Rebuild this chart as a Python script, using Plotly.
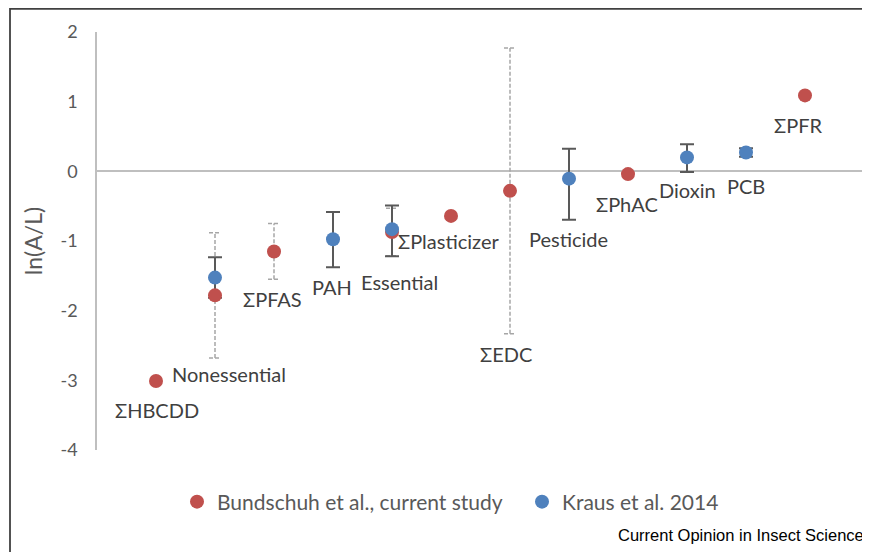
import plotly.graph_objects as go

# ---- data ----
red_name = "Bundschuh et al., current study"
blue_name = "Kraus et al. 2014"

red_x = [1, 2, 3, 5, 6, 7, 9, 12]
red_y = [-3.01, -1.78, -1.15, -0.87, -0.64, -0.28, -0.04, 1.09]
red_err = [0, 0.90, 0.40, 0.34, 0, 2.05, 0, 0]

blue_x = [2, 4, 5, 8, 10, 11]
blue_y = [-1.525, -0.975, -0.83, -0.105, 0.20, 0.27]
blue_err_plus = [0.29, 0.39, 0.34, 0.43, 0.19, 0.06]
blue_err_minus = [0.29, 0.40, 0.39, 0.59, 0.21, 0.06]

y_tickvals = [2, 1, 0, -1, -2, -3, -4]
y_ticktext = ["2", "1", "0", "-1", "-2", "-3", "-4"]

label_text = ["ΣHBCDD", "Nonessential", "ΣPFAS", "PAH", "Essential", "ΣPlasticizer",
              "ΣEDC", "Pesticide", "ΣPhAC", "Dioxin", "PCB", "ΣPFR"]
label_series = ["red", "blue", "red", "blue", "blue", "red",
                "red", "blue", "red", "blue", "blue", "red"]
label_x = [1, 2, 3, 4, 5, 6, 7, 8, 9, 10, 11, 12]
# pixel offsets of the label centre from its point (layout only)
label_shift = [(1, -29), (14, -96), (-2, -48), (-1, -48), (7, -53), (-2, -25),
               (-4, -163), (-1, -60), (-1, -30), (0, -33), (0, -33), (-7, -30)]

RED = "#C0504D"
BLUE = "#4F81BD"
FONT = "Lato"

# page geometry (the page body adds an 8px offset)
OFF = 8
PW, PH = 870, 552
L, R, T, B = 97, 6, 32, 102          # plot area edges in page pixels
X_RANGE = [0, 13]
Y_RANGE = [-4, 2]
plot_w = PW - L - R
plot_h = PH - T - B
px_per_x = plot_w / (X_RANGE[1] - X_RANGE[0])
cap_half = 6 / px_per_x


def px(xp):
    return (xp - L) / plot_w


def py(yp):
    return (PH - B - yp) / plot_h


# dashed error bars for the red series
ex, ey = [], []
for x, y, e in zip(red_x, red_y, red_err):
    if e > 0:
        ex += [x, x, None, x - cap_half, x + cap_half, None, x - cap_half, x + cap_half, None]
        ey += [y - e, y + e, None, y + e, y + e, None, y - e, y - e, None]

fig = go.Figure()
fig.add_trace(go.Scatter(x=ex, y=ey, mode="lines", showlegend=False, hoverinfo="skip",
                         line=dict(color="#A6A6A6", width=1.5, dash="4px,2px")))
fig.add_trace(go.Scatter(x=blue_x, y=blue_y, mode="markers", showlegend=False, hoverinfo="skip",
                         marker=dict(size=14, color="rgba(0,0,0,0)"),
                         error_y=dict(type="data", symmetric=False, array=blue_err_plus,
                                      arrayminus=blue_err_minus, color="#595959",
                                      thickness=2, width=7)))
fig.add_trace(go.Scatter(x=red_x, y=red_y, mode="markers", name=red_name,
                         marker=dict(size=14, color=RED), legend="legend"))
fig.add_trace(go.Scatter(x=blue_x, y=blue_y, mode="markers", name=blue_name,
                         marker=dict(size=14, color=BLUE), legend="legend2"))

annotations = []
for txt, ser, x, (dx, dy) in zip(label_text, label_series, label_x, label_shift):
    if ser == "red":
        y = red_y[red_x.index(x)]
    else:
        y = blue_y[blue_x.index(x)]
    annotations.append(dict(x=x, y=y, text=txt, showarrow=False, xshift=dx, yshift=dy,
                            xanchor="center", yanchor="middle",
                            font=dict(family=FONT, size=20, color="#404040")))

annotations.append(dict(xref="paper", yref="paper", x=px(866), y=py(535),
                        text="Current Opinion in Insect Science",
                        showarrow=False, xanchor="right", yanchor="middle",
                        font=dict(family="Liberation Sans", size=16.5, color="#000000")))

legend_style = dict(orientation="h", xanchor="left", yanchor="middle",
                    font=dict(family=FONT, size=21, color="#595959"),
                    bgcolor="rgba(0,0,0,0)")

fig.update_layout(
    width=PW - OFF, height=PH - OFF,
    margin=dict(l=L - OFF, r=R, t=T - OFF, b=B, pad=0, autoexpand=False),
    paper_bgcolor="white", plot_bgcolor="white",
    font=dict(family=FONT, color="#595959"),
    showlegend=True,
    legend=dict(x=px(177), y=py(502), **legend_style),
    legend2=dict(x=px(522), y=py(502), **legend_style),
    annotations=annotations,
    shapes=[dict(type="rect", xref="paper", yref="paper",
                 x0=px(10), x1=1.2, y0=-0.5, y1=py(8.9),
                 line=dict(color="#404040", width=1.8), layer="below")],
)
fig.update_xaxes(range=X_RANGE, showgrid=False, zeroline=False, showline=False,
                 showticklabels=False, ticks="")
fig.update_yaxes(range=Y_RANGE, tickvals=y_tickvals, ticktext=y_ticktext,
                 showgrid=False, zeroline=True,
                 zerolinecolor="#BFBFBF", zerolinewidth=1.5,
                 showline=True, linecolor="#BFBFBF", linewidth=1.5,
                 ticks="", ticklabelstandoff=14,
                 tickfont=dict(family=FONT, size=18, color="#595959"),
                 title=dict(text="ln(A/L)", standoff=11,
                            font=dict(family=FONT, size=23, color="#595959")))

fig.write_html("out.html")
